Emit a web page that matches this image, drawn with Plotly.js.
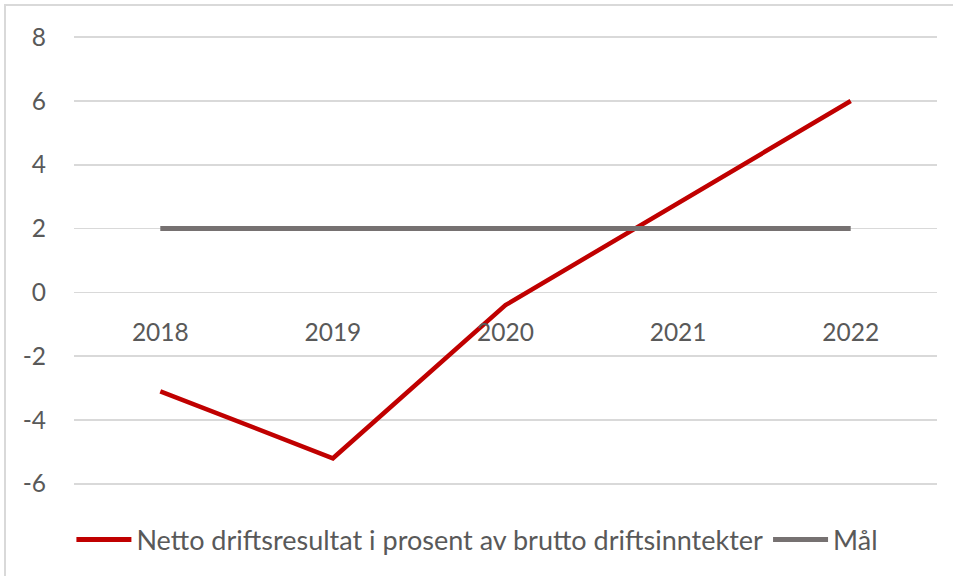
<!DOCTYPE html>
<html>
<head>
<meta charset="utf-8">
<script src="https://cdn.plot.ly/plotly-3.0.1.min.js"></script>
<style>
  html, body { margin:0; padding:0; background:#fff; }
  #chart { width:953px; height:576px; position:absolute; left:0; top:0; }
  #frame { position:absolute; left:4px; top:4px; width:949px; height:572px;
           border-left:2px solid #d9d9d9; border-top:2px solid #d9d9d9;
           pointer-events:none; box-sizing:border-box; }
</style>
</head>
<body>
<div id="chart"></div>
<div id="frame"></div>
<script>
const years = ['2018', '2019', '2020', '2021', '2022'];
const nettoDriftsresultat = [-3.1, -5.2, -0.4, 2.8, 6.0];
const maal = [2, 2, 2, 2, 2];
const seriesNames = ['Netto driftsresultat i prosent av brutto driftsinntekter', 'Mål'];
const yTicks = [-6, -4, -2, 0, 2, 4, 6, 8];

const fontFam = 'Lato, "Liberation Sans", sans-serif';
const textColor = '#595959';
const gridColor = '#d9d9d9';
const tickFs = 24.5;
const legFs = 27;

const traces = [
  { x: years, y: nettoDriftsresultat, name: seriesNames[0], type: 'scatter', mode: 'lines',
    line: { color: '#c00000', width: 4.5 } },
  { x: years, y: maal, name: seriesNames[1], type: 'scatter', mode: 'lines',
    line: { color: '#767171', width: 5 } }
];

const yMin = -6.1, yMax = 8.1;

const layout = {
  width: 953, height: 576,
  margin: { l: 74, r: 16, t: 34, b: 89, autoexpand: false },
  paper_bgcolor: '#ffffff', plot_bgcolor: '#ffffff',
  font: { family: fontFam, color: textColor, size: tickFs },
  showlegend: true,
  legend: { orientation: 'h', x: -0.003, xanchor: 'left', y: -0.117, yanchor: 'middle',
            font: { size: legFs, color: textColor, family: fontFam },
            itemwidth: 55, itemsizing: 'constant' },
  xaxis: {
    type: 'category', range: [-0.5, 4.5],
    anchor: 'free', position: (0 - yMin) / (yMax - yMin),
    showgrid: false, showline: false, zeroline: false, ticks: '',
    ticklabelstandoff: 23,
    tickfont: { size: tickFs, color: textColor, family: fontFam }
  },
  yaxis: {
    range: [yMin, yMax], tickvals: yTicks, ticktext: yTicks.map(String),
    showgrid: true, gridcolor: gridColor, gridwidth: 1.5,
    zeroline: true, zerolinecolor: gridColor, zerolinewidth: 1.5,
    showline: false, ticks: '',
    ticklabelstandoff: 27,
    tickfont: { size: tickFs, color: textColor, family: fontFam }
  }
};

Plotly.newPlot('chart', traces, layout, { displayModeBar: false, staticPlot: true });
</script>
</body>
</html>
